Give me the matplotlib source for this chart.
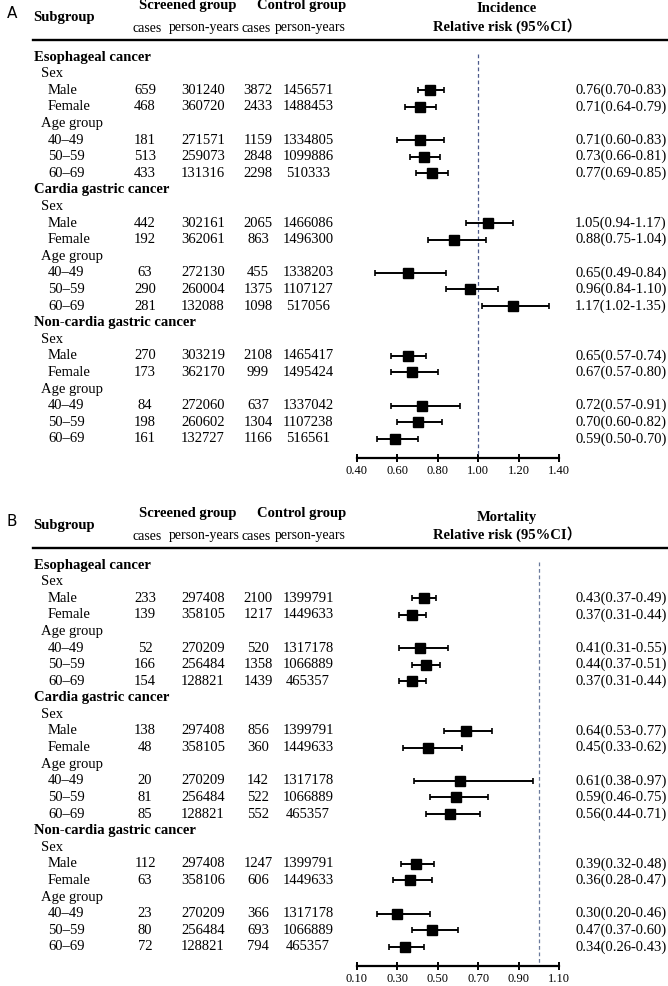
import matplotlib
matplotlib.use("Agg")
import matplotlib.pyplot as plt
import matplotlib.transforms as mtransforms
from matplotlib.lines import Line2D

plt.rcParams['font.family'] = ['Liberation Serif', 'Noto Sans CJK SC', 'DejaVu Sans']

# ---------------- data ----------------
cancers = ["Esophageal cancer", "Cardia gastric cancer", "Non-cardia gastric cancer"]
subgroups = ["Male", "Female", "40–49", "50–59", "60–69"]

inc_scr_cases = [659, 468, 181, 513, 433, 442, 192, 63, 290, 281, 270, 173, 84, 198, 161]
inc_scr_py = [301240, 360720, 271571, 259073, 131316, 302161, 362061, 272130, 260004, 132088,
              303219, 362170, 272060, 260602, 132727]
inc_ctl_cases = [3872, 2433, 1159, 2848, 2298, 2065, 863, 455, 1375, 1098, 2108, 999, 637, 1304, 1166]
inc_ctl_py = [1456571, 1488453, 1334805, 1099886, 510333, 1466086, 1496300, 1338203, 1107127, 517056,
              1465417, 1495424, 1337042, 1107238, 516561]
inc_rr = [0.76, 0.71, 0.71, 0.73, 0.77, 1.05, 0.88, 0.65, 0.96, 1.17, 0.65, 0.67, 0.72, 0.70, 0.59]
inc_lo = [0.70, 0.64, 0.60, 0.66, 0.69, 0.94, 0.75, 0.49, 0.84, 1.02, 0.57, 0.57, 0.57, 0.60, 0.50]
inc_hi = [0.83, 0.79, 0.83, 0.81, 0.85, 1.17, 1.04, 0.84, 1.10, 1.35, 0.74, 0.80, 0.91, 0.82, 0.70]
inc_ticks = [0.40, 0.60, 0.80, 1.00, 1.20, 1.40]

mort_scr_cases = [233, 139, 52, 166, 154, 138, 48, 20, 81, 85, 112, 63, 23, 80, 72]
mort_scr_py = [297408, 358105, 270209, 256484, 128821, 297408, 358105, 270209, 256484, 128821,
               297408, 358106, 270209, 256484, 128821]
mort_ctl_cases = [2100, 1217, 520, 1358, 1439, 856, 360, 142, 522, 552, 1247, 606, 366, 693, 794]
mort_ctl_py = [1399791, 1449633, 1317178, 1066889, 465357, 1399791, 1449633, 1317178, 1066889, 465357,
               1399791, 1449633, 1317178, 1066889, 465357]
mort_rr = [0.43, 0.37, 0.41, 0.44, 0.37, 0.64, 0.45, 0.61, 0.59, 0.56, 0.39, 0.36, 0.30, 0.47, 0.34]
mort_lo = [0.37, 0.31, 0.31, 0.37, 0.31, 0.53, 0.33, 0.38, 0.46, 0.44, 0.32, 0.28, 0.20, 0.37, 0.26]
mort_hi = [0.49, 0.44, 0.55, 0.51, 0.44, 0.77, 0.62, 0.97, 0.75, 0.71, 0.48, 0.47, 0.46, 0.60, 0.43]
mort_ticks = [0.10, 0.30, 0.50, 0.70, 0.90, 1.10]

# ---------------- layout ----------------
W, H = 668, 986
fig = plt.figure(figsize=(W / 100, H / 100), dpi=100)

FS = 10.5
SP = 16.6  # row spacing in px


def fx(x):
    return x / W


def fy(y):
    return 1 - y / H


def panel(off, letter, title, scr_c, scr_py, ctl_c, ctl_py, rr, lo, hi, ticks, dash_color):
    fig.text(fx(7), fy(off + 14), letter, family='DejaVu Sans', fontsize=11, va='center', ha='left')
    fig.text(fx(33), fy(off + 17), "Subgroup", fontweight='bold', fontsize=FS, va='center')
    fig.text(fx(188), fy(off + 6), "Screened group", fontweight='bold', fontsize=FS, va='center', ha='center')
    fig.text(fx(302), fy(off + 6), "Control group", fontweight='bold', fontsize=FS, va='center', ha='center')
    for xc, s in zip([147, 204, 256, 310], ["cases", "person-years", "cases", "person-years"]):
        fig.text(fx(xc), fy(off + 28), s, fontsize=10, va='center', ha='center')
    fig.text(fx(507), fy(off + 9), title, fontweight='bold', fontsize=FS, va='center', ha='center')
    fig.text(fx(507), fy(off + 26), "Relative risk (95%CI）", fontweight='bold', fontsize=FS,
             va='center', ha='center')
    fig.add_artist(Line2D([fx(33), fx(668)], [fy(off + 39.5), fy(off + 39.5)],
                          transform=fig.transFigure, color='black', lw=1.7))

    row0 = off + 57
    top_px = off + 41
    bot_px = off + 458
    ax = fig.add_axes([fx(357), fy(bot_px), fx(559) - fx(357), (bot_px - top_px) / H])
    ax.set_xlim(ticks[0], ticks[-1])
    ax.set_ylim((bot_px - row0) / SP, (top_px - row0) / SP)
    for s in ['left', 'right', 'top']:
        ax.spines[s].set_visible(False)
    ax.spines['bottom'].set_linewidth(1.6)
    ax.set_yticks([])
    ax.set_xticks(ticks)
    ax.set_xticklabels([f"{t:.2f}" for t in ticks], fontsize=9)
    ax.tick_params(axis='x', direction='inout', length=6, width=1.4, pad=2)
    ax.patch.set_alpha(0)

    tr = mtransforms.blended_transform_factory(fig.transFigure, ax.transData)

    rows_y = []
    r = 0
    k = 0
    for ci, cname in enumerate(cancers):
        ax.text(fx(34), r, cname, transform=tr, fontweight='bold', fontsize=FS, va='center')
        r += 1
        ax.text(fx(41), r, "Sex", transform=tr, fontsize=FS, va='center')
        r += 1
        for j, sg in enumerate(subgroups):
            if j == 2:
                ax.text(fx(41), r, "Age group", transform=tr, fontsize=FS, va='center')
                r += 1
            ax.text(fx(48), r, sg, transform=tr, fontsize=FS, va='center')
            for xc, v in zip([145, 203, 258, 308], [scr_c[k], scr_py[k], ctl_c[k], ctl_py[k]]):
                ax.text(fx(xc), r, str(v), transform=tr, fontsize=FS, va='center', ha='center')
            ax.text(fx(575), r, f"{rr[k]:.2f}({lo[k]:.2f}-{hi[k]:.2f})", transform=tr,
                    fontsize=FS, va='center', ha='left')
            rows_y.append(r)
            r += 1
            k += 1

    ax.vlines(1.0, -0.2, (bot_px - row0) / SP, colors=dash_color, linestyles=(0, (3, 2.2)), lw=0.9)
    xerr = [[a - b for a, b in zip(rr, lo)], [c - a for a, c in zip(rr, hi)]]
    ax.errorbar(rr, rows_y, xerr=xerr, fmt='s', color='black', ms=7, capsize=2.2,
                elinewidth=1.4, capthick=1.2, zorder=3)


panel(0, "A", "Incidence", inc_scr_cases, inc_scr_py, inc_ctl_cases, inc_ctl_py,
      inc_rr, inc_lo, inc_hi, inc_ticks, '#4c5a8c')
panel(508, "B", "Mortality", mort_scr_cases, mort_scr_py, mort_ctl_cases, mort_ctl_py,
      mort_rr, mort_lo, mort_hi, mort_ticks, '#6a7a9c')

fig.savefig("out.png", dpi=100)
